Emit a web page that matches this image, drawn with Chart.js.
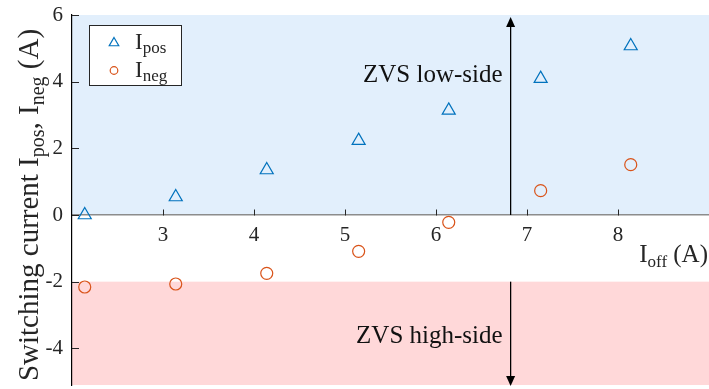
<!DOCTYPE html>
<html>
<head>
<meta charset="utf-8">
<script src="https://cdn.jsdelivr.net/npm/chart.js@4/dist/chart.umd.min.js"></script>
<style>
  html, body { margin: 0; padding: 0; background: #ffffff; }
  #wrap { width: 709px; height: 389px; }
</style>
</head>
<body>
<div id="wrap"><canvas id="c" width="709" height="389"></canvas></div>
<script>
// ---- data ----
const iOff = [2.14, 3.14, 4.14, 5.15, 6.14, 7.15, 8.14];
const iPos = [0.0, 0.54, 1.35, 2.23, 3.14, 4.09, 5.07];
const iNeg = [-2.16, -2.07, -1.75, -1.09, -0.22, 0.73, 1.51];
const xTicks = [3, 4, 5, 6, 7, 8, 9];
const xTickLabels = ['3', '4', '5', '6', '7', '8', ''];
const yTicks = [-4, -2, 0, 2, 4, 6];
const yTickLabels = ['-4', '-2', '0', '2', '4', '6'];
const zvsLowBand = [0, 6];
const zvsHighBand = [-2, -5.1];
const boundaryX = 6.82;
const lowLabel = 'ZVS low-side';
const highLabel = 'ZVS high-side';
const lowLabelY = 3.98;
const highLabelY = -3.85;

const SERIF = '"Liberation Serif", "DejaVu Serif", serif';
const TXT = '#262626';
const BLUE = '#0072BD';
const ORANGE = '#D95319';

function drawTextRuns(ctx, runs, x, y, align) {
  let total = 0;
  runs.forEach(r => { ctx.font = r[1] + 'px ' + SERIF; total += ctx.measureText(r[0]).width; });
  let cx = align === 'right' ? x - total : align === 'center' ? x - total / 2 : x;
  ctx.textAlign = 'left';
  ctx.textBaseline = 'alphabetic';
  runs.forEach(r => {
    ctx.font = r[1] + 'px ' + SERIF;
    ctx.fillText(r[0], cx, y + (r[2] || 0));
    cx += ctx.measureText(r[0]).width;
  });
}

function drawArrow(ctx, x, y1, y2) {
  const dir = y2 < y1 ? -1 : 1;
  const hl = 10, hw = 4.5;
  ctx.beginPath();
  ctx.moveTo(x, y1);
  ctx.lineTo(x, y2 - dir * hl);
  ctx.stroke();
  ctx.beginPath();
  ctx.moveTo(x, y2);
  ctx.lineTo(x - hw, y2 - dir * hl);
  ctx.lineTo(x + hw, y2 - dir * hl);
  ctx.closePath();
  ctx.fill();
}

const decor = {
  id: 'decor',
  beforeDraw(chart) {
    const { ctx, chartArea: a, scales: { x, y } } = chart;
    ctx.save();
    ctx.fillStyle = '#e2effc';
    const t1 = y.getPixelForValue(zvsLowBand[1]), b1 = y.getPixelForValue(zvsLowBand[0]);
    ctx.fillRect(a.left, t1, a.right - a.left, b1 - t1);
    ctx.fillStyle = '#ffd8d9';
    const t2 = y.getPixelForValue(zvsHighBand[0]), b2 = y.getPixelForValue(zvsHighBand[1]);
    ctx.fillRect(a.left, t2, a.right - a.left, b2 - t2);
    ctx.restore();
  },
  afterDraw(chart) {
    const { ctx, chartArea: a, scales: { x, y } } = chart;
    ctx.save();
    ctx.strokeStyle = TXT;
    ctx.lineWidth = 1;
    const y0 = Math.round(y.getPixelForValue(0)) + 0.5;
    x.ticks.forEach(t => {
      const px = Math.round(x.getPixelForValue(t.value)) + 0.5;
      ctx.beginPath(); ctx.moveTo(px, y0); ctx.lineTo(px, y0 - 6); ctx.stroke();
    });
    y.ticks.forEach(t => {
      const py = Math.round(y.getPixelForValue(t.value)) + 0.5;
      ctx.beginPath(); ctx.moveTo(a.left, py); ctx.lineTo(a.left + 7, py); ctx.stroke();
    });
    ctx.strokeStyle = '#000';
    ctx.fillStyle = '#000';
    ctx.lineWidth = 1.3;
    const ax = x.getPixelForValue(boundaryX);
    drawArrow(ctx, ax, y.getPixelForValue(zvsLowBand[0]), y.getPixelForValue(zvsLowBand[1]) + 2);
    drawArrow(ctx, ax, y.getPixelForValue(zvsHighBand[0]), y.getPixelForValue(zvsHighBand[1]) + 1);
    ctx.fillStyle = '#111';
    drawTextRuns(ctx, [[lowLabel, 25, 0]], ax - 8, y.getPixelForValue(lowLabelY), 'right');
    drawTextRuns(ctx, [[highLabel, 25, 0]], ax - 8, y.getPixelForValue(highLabelY), 'right');
    ctx.fillStyle = TXT;
    drawTextRuns(ctx, [['I', 25, 0], ['off', 17, 5], [' (A)', 25, 0]], 708, 262, 'right');
    ctx.save();
    ctx.translate(38, 205);
    ctx.rotate(-Math.PI / 2);
    drawTextRuns(ctx, [['Switching current I', 29, 0], ['pos', 20, 6], [', I', 29, 0], ['neg', 20, 6], [' (A)', 29, 0]], 0, 0, 'center');
    ctx.restore();
    ctx.fillStyle = '#ffffff';
    ctx.fillRect(89, 25, 93, 61);
    ctx.strokeStyle = '#262626';
    ctx.lineWidth = 1;
    ctx.strokeRect(89.5, 25.5, 92, 60);
    ctx.lineWidth = 1.2;
    ctx.strokeStyle = BLUE;
    const r = 5.5, lx = 114, ly = 43;
    ctx.beginPath();
    for (let k = 0; k < 3; k++) {
      const ang = k * 2 * Math.PI / 3;
      const px = lx + Math.sin(ang) * r, py = ly - Math.cos(ang) * r;
      if (k === 0) ctx.moveTo(px, py); else ctx.lineTo(px, py);
    }
    ctx.closePath(); ctx.stroke();
    ctx.strokeStyle = ORANGE;
    ctx.beginPath(); ctx.arc(114, 70.5, 3.8, 0, 2 * Math.PI); ctx.stroke();
    ctx.fillStyle = TXT;
    drawTextRuns(ctx, [['I', 23, 0], ['pos', 17, 4]], 135, 49, 'left');
    drawTextRuns(ctx, [['I', 23, 0], ['neg', 17, 4]], 135, 77, 'left');
    ctx.restore();
  }
};

new Chart(document.getElementById('c'), {
  type: 'scatter',
  data: {
    datasets: [
      {
        label: 'Ipos',
        data: iOff.map((v, i) => ({ x: v, y: iPos[i] })),
        pointStyle: 'triangle',
        pointRadius: 7.5,
        pointHoverRadius: 7.5,
        borderColor: BLUE,
        backgroundColor: 'rgba(0,0,0,0)',
        pointBorderWidth: 1.2,
        borderWidth: 1.2
      },
      {
        label: 'Ineg',
        data: iOff.map((v, i) => ({ x: v, y: iNeg[i] })),
        pointStyle: 'circle',
        pointRadius: 6,
        pointHoverRadius: 6,
        borderColor: ORANGE,
        backgroundColor: 'rgba(0,0,0,0)',
        pointBorderWidth: 1.2,
        borderWidth: 1.2
      }
    ]
  },
  options: {
    responsive: false,
    animation: false,
    devicePixelRatio: 1,
    layout: { autoPadding: false, padding: { top: 15, right: 0, bottom: 4, left: 0 } },
    plugins: { legend: { display: false }, tooltip: { enabled: false } },
    scales: {
      x: {
        type: 'linear',
        min: 2, max: 9,
        position: { y: 0 },
        afterBuildTicks: s => { s.ticks = xTicks.map(v => ({ value: v })); },
        afterFit: s => { s.height = 0; s.paddingLeft = 0; s.paddingRight = 0; s.paddingTop = 0; s.paddingBottom = 0; },
        ticks: {
          autoSkip: false,
          maxRotation: 0,
          padding: 8,
          color: TXT,
          font: { family: SERIF, size: 21 },
          callback: (v) => { const i = xTicks.indexOf(v); return i >= 0 ? xTickLabels[i] : ''; }
        },
        grid: { display: false, drawTicks: false },
        border: { display: true, color: '#8c8c8c', width: 1.5 }
      },
      y: {
        type: 'linear',
        min: zvsHighBand[1], max: zvsLowBand[1],
        afterFit: s => { s.width = 72; s.paddingTop = 0; s.paddingBottom = 0; s.paddingLeft = 0; s.paddingRight = 0; },
        afterBuildTicks: s => { s.ticks = yTicks.map(v => ({ value: v })); },
        ticks: {
          autoSkip: false,
          padding: 9,
          color: TXT,
          font: { family: SERIF, size: 21 },
          callback: (v) => { const i = yTicks.indexOf(v); return i >= 0 ? yTickLabels[i] : ''; }
        },
        grid: { display: false, drawTicks: false },
        border: { display: true, color: '#000000', width: 1.2 }
      }
    }
  },
  plugins: [decor]
});
</script>
</body>
</html>
